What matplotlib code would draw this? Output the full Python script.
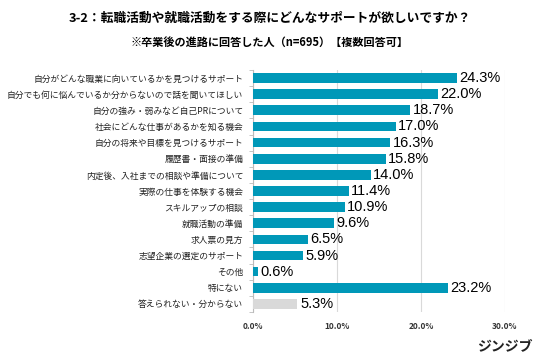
import matplotlib.pyplot as plt
import numpy as np

plt.rcParams['font.family'] = ['Noto Sans CJK JP', 'DejaVu Sans']

labels = [
    '自分がどんな職業に向いているかを見つけるサポート',
    '自分でも何に悩んでいるか分からないので話を聞いてほしい',
    '自分の強み・弱みなど自己PRについて',
    '社会にどんな仕事があるかを知る機会',
    '自分の将来や目標を見つけるサポート',
    '履歴書・面接の準備',
    '内定後、入社までの相談や準備について',
    '実際の仕事を体験する機会',
    'スキルアップの相談',
    '就職活動の準備',
    '求人票の見方',
    '志望企業の選定のサポート',
    'その他',
    '特にない',
    '答えられない・分からない',
]
values = [24.3, 22.0, 18.7, 17.0, 16.3, 15.8, 14.0, 11.4, 10.9, 9.6, 6.5, 5.9, 0.6, 23.2, 5.3]
colors = ['#0098B8'] * (len(values) - 1) + ['#D9D9D9']

fig = plt.figure(figsize=(5.36, 3.59), dpi=100)
ax = fig.add_axes([0.472, 0.131, 0.47, 0.674])

y = np.arange(len(values))
ax.barh(y, values, height=0.6, color=colors, zorder=3)
for yi, v in zip(y, values):
    ax.text(v + 0.3, yi, f'{v:.1f}%', va='center', ha='left', fontsize=10.5,
            family=['Liberation Sans', 'DejaVu Sans'], zorder=4)

ax.set_ylim(len(values) - 0.5, -0.5)
ax.set_xlim(0, 30)
ax.set_xticks([0, 10, 20, 30])
ax.set_xticklabels(['0.0%', '10.0%', '20.0%', '30.0%'], fontsize=6, fontweight='bold', color='#333333')
ax.set_yticks(y)
ax.set_yticklabels(labels, fontsize=6.3, color='#222222')
ax.set_yticks(np.arange(-0.5, len(values), 1), minor=True)
ax.tick_params(axis='y', which='major', length=0, pad=7)
ax.tick_params(axis='y', which='minor', length=3, color='#BBBBBB')
ax.tick_params(axis='x', length=0, pad=7)
ax.grid(axis='x', color='#D9D9D9', linewidth=0.8, zorder=0)
for s in ['top', 'right', 'bottom']:
    ax.spines[s].set_visible(False)
ax.spines['left'].set_color('#BBBBBB')
ax.spines['left'].set_linewidth(0.8)

fig.text(0.503, 0.95, '3-2：転職活動や就職活動をする際にどんなサポートが欲しいですか？',
         ha='center', va='center', fontsize=9.2, fontweight='bold')
fig.text(0.503, 0.883, '※卒業後の進路に回答した人（n=695）【複数回答可】',
         ha='center', va='center', fontsize=8, fontweight='bold')
fig.text(0.993, 0.035, 'ジンジブ', ha='right', va='center', fontsize=10, fontweight='bold', color='#222222')

fig.savefig('out.png', dpi=100)
